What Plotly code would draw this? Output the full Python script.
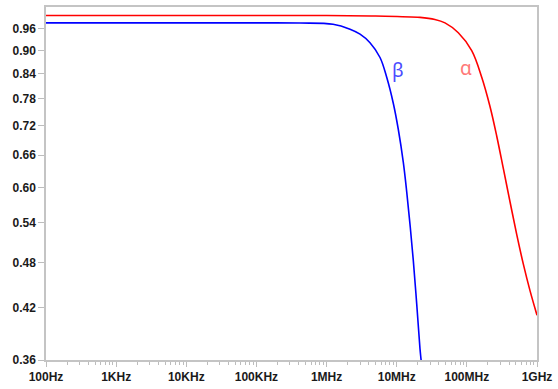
import plotly.graph_objects as go
import numpy as np

# Frequencies (Hz) and magnitudes
beta_f = [100, 1e5, 4.18e5, 1.236e6, 2.16e6, 3.0e6, 4.16e6, 5.78e6, 7.20e6, 8.95e6,
          10.54e6, 12.42e6, 13.89e6, 15.49e6, 17.25e6, 19.28e6, 21.48e6, 22.2e6, 23.0e6]
beta_v = [0.976, 0.976, 0.9755, 0.972, 0.958, 0.944, 0.9205, 0.881, 0.831, 0.769,
          0.712, 0.646, 0.592, 0.537, 0.483, 0.425, 0.372, 0.361, 0.350]

alpha_f = [100, 1e6, 5e6, 21.5e6, 35e6, 48.8e6, 75.5e6, 117.3e6, 162.9e6, 213.8e6,
           266.8e6, 331.5e6, 412.3e6, 513.6e6, 638.6e6, 794.8e6, 1e9]
alpha_v = [0.9975, 0.9975, 0.996, 0.992, 0.986, 0.976, 0.948, 0.899, 0.831, 0.762,
           0.698, 0.634, 0.575, 0.522, 0.478, 0.442, 0.411]

x_tick_vals = [1e2, 1e3, 1e4, 1e5, 1e6, 1e7, 1e8, 1e9]
x_tick_text = ["100Hz", "1KHz", "10KHz", "100KHz", "1MHz", "10MHz", "100MHz", "1GHz"]
y_tick_vals = [0.36, 0.42, 0.48, 0.54, 0.60, 0.66, 0.72, 0.78, 0.84, 0.90, 0.96]
y_tick_text = ["%.2f" % v for v in y_tick_vals]

fig = go.Figure()
fig.add_trace(go.Scatter(x=beta_f, y=beta_v, mode="lines",
                         line=dict(color="#0000ff", width=1.6, shape="spline", smoothing=1.0),
                         showlegend=False, hoverinfo="skip"))
fig.add_trace(go.Scatter(x=alpha_f, y=alpha_v, mode="lines",
                         line=dict(color="#ff0000", width=1.6, shape="spline", smoothing=1.0),
                         showlegend=False, hoverinfo="skip"))

fig.add_annotation(x=np.log10(10.4e6), y=np.log10(0.848), text="β", showarrow=False,
                   font=dict(size=19, color="#4b4bff", family="Noto Sans"))
fig.add_annotation(x=np.log10(97e6), y=np.log10(0.853), text="α", showarrow=False,
                   font=dict(size=19, color="#ff7878", family="Noto Sans"))

axis_common = dict(showline=True, linecolor="#c4c4c4", linewidth=1.5, mirror=True,
                   showgrid=False, zeroline=False, ticks="outside", tickcolor="#bdbdbd",
                   tickfont=dict(family="Liberation Sans, Arial", size=12, color="#1a1a1a",
                                 weight="bold"))

fig.update_xaxes(type="log", range=[2, 9], tickvals=x_tick_vals, ticktext=x_tick_text,
                 ticklen=5, tickwidth=1,
                 minor=dict(ticks="outside", ticklen=3, tickcolor="#bdbdbd", dtick="D1",
                            showgrid=False),
                 **axis_common)
fig.update_yaxes(type="log", range=[np.log10(0.36), np.log10(1.023)],
                 tickvals=y_tick_vals, ticktext=y_tick_text, ticklen=6, tickwidth=1,
                 **axis_common)

fig.update_layout(width=558, height=389, margin=dict(l=46, r=21, t=5, b=25),
                  paper_bgcolor="white", plot_bgcolor="white",
                  font=dict(family="Liberation Sans, Arial"))

fig.write_html("out.html", config={"displayModeBar": False},
               post_script="document.body.style.margin='0';document.body.style.overflow='hidden';")
